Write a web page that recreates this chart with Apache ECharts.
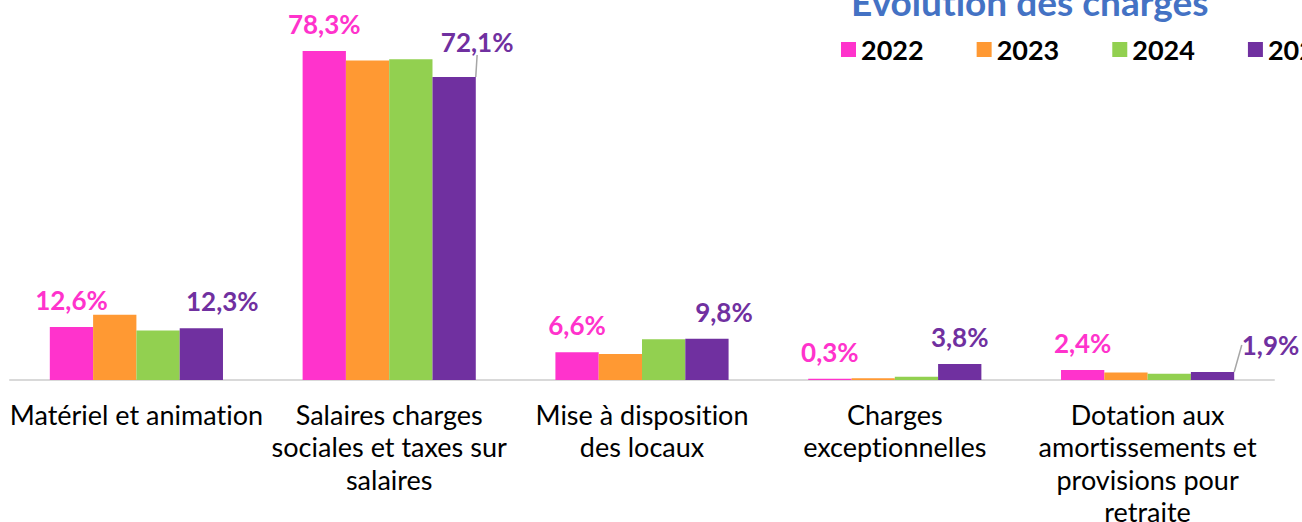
<!DOCTYPE html>
<html><head><meta charset="utf-8">
<script src="https://cdn.jsdelivr.net/npm/echarts@6/dist/echarts.min.js"></script>
<style>html,body{margin:0;padding:0;background:#fff}#c{width:1302px;height:522px}
#c text{font-variant-ligatures:none !important;font-feature-settings:"liga" 0,"clig" 0,"dlig" 0 !important;}</style>
</head><body><div id="c"></div>
<script>
const categories = ["Matériel et animation", "Salaires charges\nsociales et taxes sur\nsalaires", "Mise à disposition\ndes locaux", "Charges\nexceptionnelles", "Dotation aux\namortissements et\nprovisions pour\nretraite"];
const years = ["2022", "2023", "2024", "2025"];
const v2022 = [12.6, 78.3, 6.6, 0.3, 2.4];
const v2023 = [15.5, 76.0, 6.2, 0.4, 1.8];
const v2024 = [11.8, 76.3, 9.7, 0.8, 1.5];
const v2025 = [12.3, 72.1, 9.8, 3.8, 1.9];
const titleText = "Évolution des charges";

const colors = ["#FF33CC", "#FF9933", "#92D050", "#7030A0"];
const FONT = "Lato";
const fmt = p => p.value.toFixed(1).replace('.', ',') + '%';

// purple label displacement per category
const purpleShift = [[21, 0], [23, -8], [17, 0], [0, 0], [58, 0]];
const purpleLine = [false, true, false, false, true];

const chart = echarts.init(document.getElementById('c'), null, { renderer: 'svg' });
const allVals = [v2022, v2023, v2024, v2025];
const series = allVals.map((vals, i) => {
  const labeled = (i === 0 || i === 3);
  return {
    name: years[i],
    type: 'bar',
    barGap: '0%',
    barCategoryGap: '31.5%',
    itemStyle: { color: colors[i] },
    data: vals.map((v, k) => i === 3 ? { value: v, labelLine: { show: purpleLine[k] } } : v),
    label: {
      show: labeled, position: 'top', distance: 14, formatter: fmt,
      color: colors[i], fontFamily: FONT, fontWeight: 'bold', fontSize: 26
    },
    labelLine: { show: false, lineStyle: { color: '#A6A6A6', width: 1.5 } },
    labelLayout: i === 3 ? function (p) {
      const s = purpleShift[p.dataIndex];
      return { dx: s[0], dy: s[1] };
    } : undefined
  };
});

chart.setOption({
  animation: false,
  color: colors,
  grid: { left: 10, right: 28, top: 43.8, bottom: 142, containLabel: false, outerBoundsMode: 'none' },
  legend: {
    data: years, left: 836, top: 31, width: 1000, icon: 'rect', itemWidth: 15, itemHeight: 15,
    itemGap: 53, textStyle: { fontFamily: FONT, fontWeight: 'bold', fontSize: 27, color: '#000' },
    selectedMode: false
  },
  graphic: [{
    type: 'text', left: 851, top: -17,
    style: { text: titleText, font: 'bold 37px Lato', fill: '#4472C4' }
  }],
  xAxis: {
    type: 'category', data: categories,
    axisLine: { lineStyle: { color: '#D9D9D9', width: 2 } },
    axisTick: { show: false },
    axisLabel: { interval: 0, color: '#000', fontFamily: FONT, fontSize: 27, lineHeight: 32.5, margin: 18 }
  },
  yAxis: { type: 'value', min: 0, max: 80, show: false, splitLine: { show: false } },
  series: series
});
</script></body></html>
